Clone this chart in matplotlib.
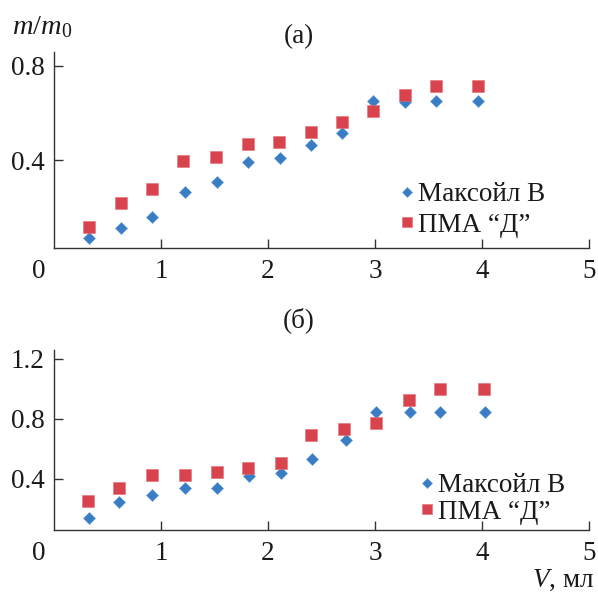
import matplotlib
matplotlib.use('Agg')
import matplotlib.pyplot as plt
import matplotlib.transforms as mtransforms

###############################################################################
# Data
###############################################################################

series_names = ['Максойл В', 'ПМА “Д”']

# panel (а)
v_a_maks = [0.33, 0.63, 0.92, 1.22, 1.52, 1.81, 2.11, 2.40, 2.69, 2.98, 3.28, 3.57, 3.96]
m_a_maks = [0.07, 0.112, 0.159, 0.263, 0.308, 0.39, 0.41, 0.464, 0.514, 0.652, 0.648, 0.652, 0.652]
v_a_pma = [0.33, 0.63, 0.92, 1.21, 1.51, 1.81, 2.10, 2.40, 2.69, 2.98, 3.28, 3.57, 3.96]
m_a_pma = [0.116, 0.22, 0.277, 0.397, 0.414, 0.468, 0.475, 0.518, 0.563, 0.606, 0.677, 0.712, 0.712]

# panel (б)
v_b_maks = [0.33, 0.61, 0.92, 1.22, 1.52, 1.82, 2.12, 2.41, 2.73, 3.01, 3.33, 3.61, 4.03]
m_b_maks = [0.14, 0.246, 0.294, 0.338, 0.338, 0.422, 0.438, 0.533, 0.663, 0.845, 0.845, 0.845, 0.845]
v_b_pma = [0.32, 0.61, 0.92, 1.22, 1.52, 1.81, 2.12, 2.40, 2.71, 3.01, 3.32, 3.61, 4.02]
m_b_pma = [0.252, 0.342, 0.427, 0.427, 0.444, 0.475, 0.504, 0.696, 0.736, 0.776, 0.93, 1.0, 1.0]

xticks = [1, 2, 3, 4, 5]
yticks_a = [0.4, 0.8]
yticks_b = [0.4, 0.8, 1.2]

###############################################################################
# Style
###############################################################################

plt.rcParams['font.family'] = ['Liberation Serif', 'DejaVu Serif']
plt.rcParams['mathtext.fontset'] = 'custom'
plt.rcParams['mathtext.rm'] = 'Liberation Serif'
plt.rcParams['mathtext.it'] = 'Liberation Serif:italic'

blue = '#3b7dc4'
red = '#d8434d'
axis_col = '#333333'
txt_col = '#1a1a1a'
fs = 19.5

fig = plt.figure(figsize=(5.98, 5.98), dpi=100)
W = H = 598.0

def px_axes(x0, y0, x1, y1):
    # pixel box (top-left origin) -> figure fraction
    return fig.add_axes([x0 / W, 1 - y1 / H, (x1 - x0) / W, (y1 - y0) / H])

ax_a = px_axes(54, 52, 589, 248.3)
ax_b = px_axes(54, 350, 589, 530)

def style_axes(ax, ylim, yticks):
    ax.set_xlim(0, 5)
    ax.set_ylim(*ylim)
    for s in ['top', 'right']:
        ax.spines[s].set_visible(False)
    for s in ['left', 'bottom']:
        ax.spines[s].set_color(axis_col)
        ax.spines[s].set_linewidth(1.0)
    ax.set_xticks(xticks)
    ax.set_xticklabels([str(t) for t in xticks])
    ax.set_yticks(yticks)
    ax.set_yticklabels([str(t) for t in yticks])
    ax.tick_params(direction='in', length=6.5, width=1.0, color=axis_col,
                   labelsize=fs, labelcolor=txt_col)
    ax.tick_params(axis='y', pad=6.5)
    ax.tick_params(axis='x', pad=8)
    # the shared "0" at the corner
    trans = mtransforms.blended_transform_factory(ax.transData, ax.transAxes)
    t = ax.text(-0.14, 0, '0', fontsize=fs, color=txt_col, ha='center', va='top')
    t.set_transform(trans + mtransforms.ScaledTranslation(0, -8 / 72, fig.dpi_scale_trans))

def draw(ax, vx1, vy1, vx2, vy2):
    ax.plot(vx1, vy1, linestyle='none', marker='D', ms=6.2, color=blue,
            mec='#5b9ad8', mew=0.4, label=series_names[0], clip_on=False)
    ax.plot(vx2, vy2, linestyle='none', marker='s', ms=8.3, color=red,
            mec='#e07078', mew=0.4, label=series_names[1], clip_on=False)

style_axes(ax_a, (0.026, 0.858), yticks_a)
style_axes(ax_b, (0.06, 1.26), yticks_b)
draw(ax_a, v_a_maks, m_a_maks, v_a_pma, m_a_pma)
draw(ax_b, v_b_maks, m_b_maks, v_b_pma, m_b_pma)

leg_a = ax_a.legend(loc='center left', bbox_to_anchor=(400 / W, 1 - 210 / H),
                    bbox_transform=fig.transFigure, frameon=False, fontsize=fs,
                    handlelength=0.5, handletextpad=0.15, borderpad=0,
                    borderaxespad=0, labelspacing=0.2, markerscale=0.8,
                    labelcolor=txt_col)
leg_b = ax_b.legend(loc='center left', bbox_to_anchor=(420 / W, 1 - 499 / H),
                    bbox_transform=fig.transFigure, frameon=False, fontsize=fs,
                    handlelength=0.5, handletextpad=0.15, borderpad=0,
                    borderaxespad=0, labelspacing=0.05, markerscale=0.8,
                    labelcolor=txt_col)

fig.text(12 / W, 1 - 27 / H, r'$m/m_0$', fontsize=fs + 1, color=txt_col, ha='left', va='center')
fig.text(299 / W, 1 - 37 / H, '(а)', fontsize=fs, color=txt_col, ha='center', va='center')
fig.text(299 / W, 1 - 320 / H, '(б)', fontsize=fs, color=txt_col, ha='center', va='center')
fig.text(594 / W, 1 - 580 / H, r'$V$, мл', fontsize=fs, color=txt_col, ha='right', va='center')

fig.savefig('out.png', dpi=100)
